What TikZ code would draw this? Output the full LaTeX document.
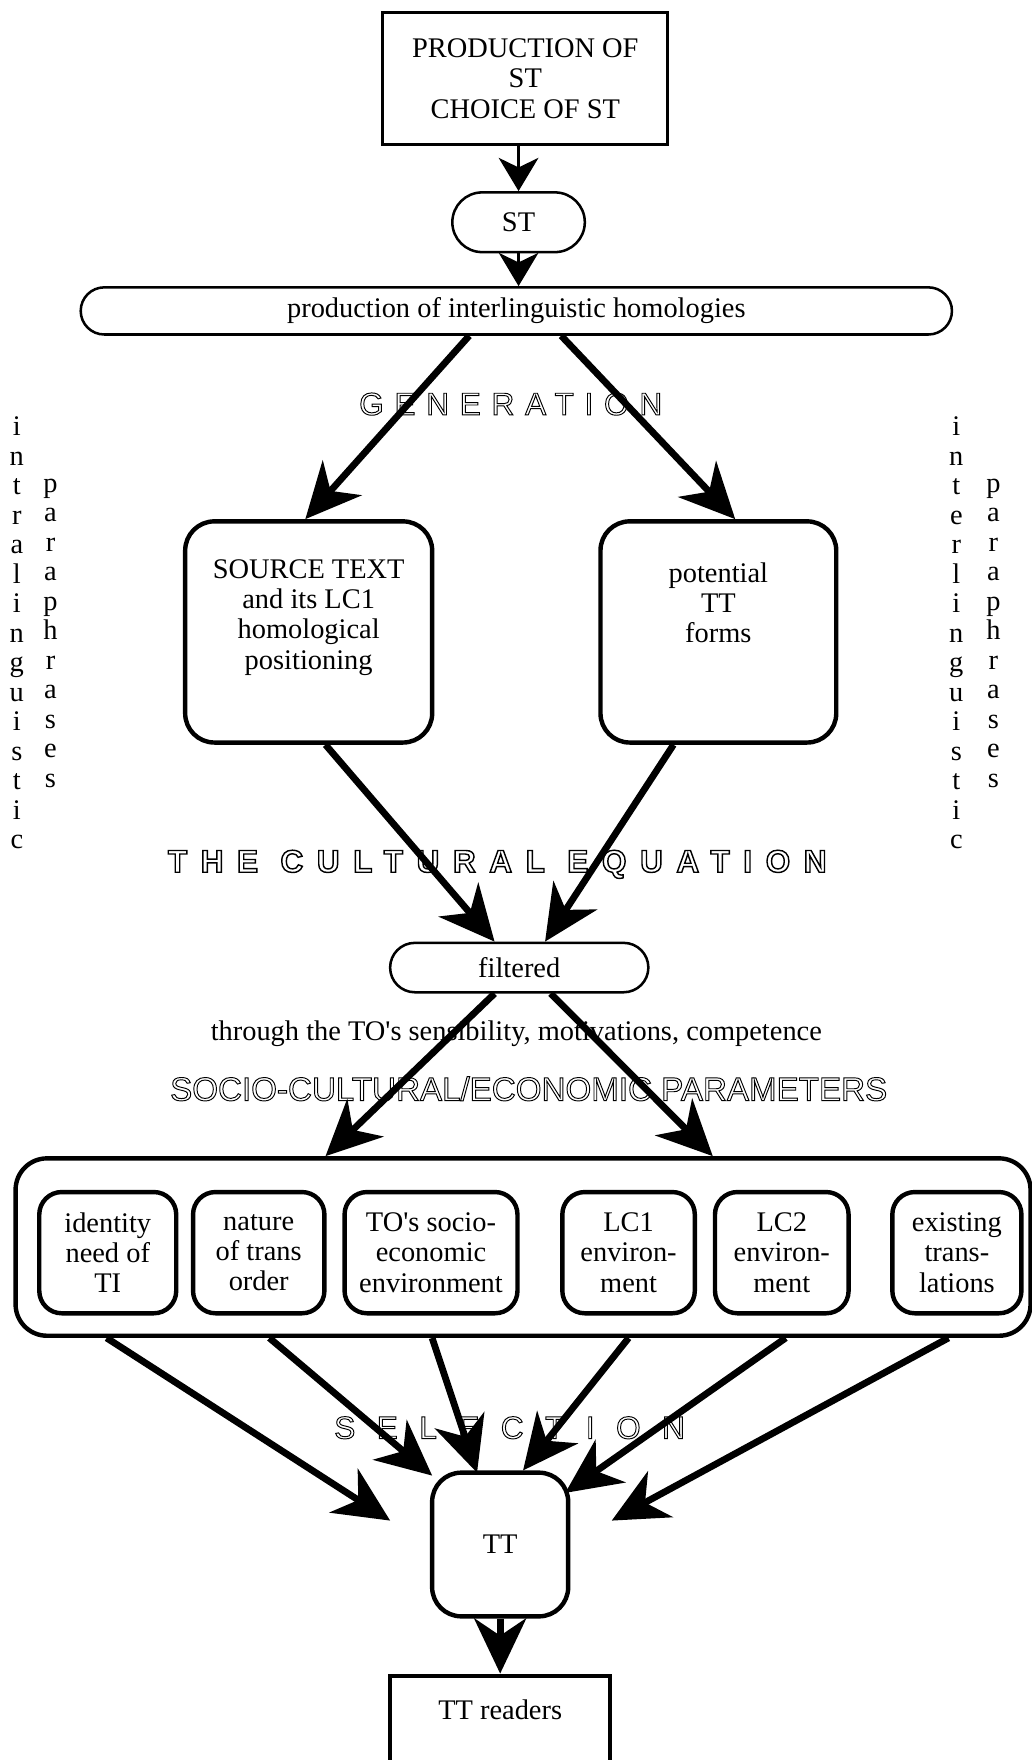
\documentclass[tikz,border=0pt]{standalone}
\usepackage{fontspec}
\setmainfont{Liberation Serif}
\newfontfamily\hollowfont{Liberation Sans}
\usetikzlibrary{arrows.meta,calc,shapes.misc}

% outline lettering for the headings
\newcommand{\hollow}[3][0.6]{\special{pdf:bcontent}\special{pdf:literal direct 1 Tr #1 w}%
  \addfontfeature{LetterSpace=#2}#3\special{pdf:econtent}}

\tikzset{
  plainbox/.style={draw,line width=1.8pt,align=center},
  pill/.style={draw,rounded rectangle,line width=1.6pt,inner sep=0pt},
  roundbox/.style={draw,rounded corners=0.65cm,line width=2.8pt,align=center,inner sep=0pt},
  factor/.style={roundbox,rounded corners=0.5cm,minimum height=2.7cm},
  heading/.style={font=\hollowfont\fontsize{20}{24}\selectfont},
  column/.style={align=center,inner sep=0pt,font=\fontsize{18}{18.7}\selectfont},
  smallarrow/.style={-{Stealth[length=21pt,width=25pt,inset=6pt]},line width=2.4pt},
  bigarrow/.style={-{Stealth[length=35pt,width=33pt,inset=11pt]},line width=4.3pt}
}

\begin{document}
\begin{tikzpicture}[x=0.025cm,y=-0.025cm,font=\fontsize{18}{19.2}\selectfont]
  \useasboundingbox (0,0) rectangle (919,1568);

  \node[plainbox,minimum width=6.35cm,minimum height=2.95cm] (prod) at (468,70)
    {PRODUCTION OF\\ST\\CHOICE OF ST};
  \node[pill,minimum width=2.95cm,minimum height=1.33cm] (st) at (462,198) {ST};
  \node[pill,minimum width=19.4cm,minimum height=1.05cm] (hom) at (460,277)
    {production of interlinguistic homologies};

  \node[heading] (gen) at (455,360) {\hollow{34}{GENERATION}};

  \node[roundbox,minimum width=5.5cm,minimum height=4.925cm] (src) at (275,563) {};
  \node[align=center] (srctext) at (275,550)
    {SOURCE TEXT\\and its LC1\\homological\\positioning};
  \node[roundbox,minimum width=5.25cm,minimum height=4.925cm] (tform) at (640,563) {};
  \node[align=center] (tformtext) at (640,537) {potential\\TT\\forms};

  \node[column] (intra) at (15,564) {i\\n\\t\\r\\a\\l\\i\\n\\g\\u\\i\\s\\t\\i\\c};
  \node[column] (intrapara) at (45,564) {p\\a\\r\\a\\p\\h\\r\\a\\s\\e\\s};
  \node[column] (inter) at (852,564) {i\\n\\t\\e\\r\\l\\i\\n\\g\\u\\i\\s\\t\\i\\c};
  \node[column] (interpara) at (885,564) {p\\a\\r\\a\\p\\h\\r\\a\\s\\e\\s};

  \node[heading,font=\hollowfont\bfseries\fontsize{20}{24}\selectfont] (equ) at (443,770)
    {\hollow[0.9]{43}{THE CULTURAL EQUATION}};

  \node[pill,minimum width=5.75cm,minimum height=1.1cm] (filt) at (462.6,862) {filtered};
  \node (through) at (460,921)
    {through the TO\textquotesingle s sensibility, motivations, competence};
  \node[heading,font=\hollowfont\fontsize{21}{24}\selectfont] (socio) at (471,970)
    {\hollow{0}{SOCIO-CULTURAL/ECONOMIC PARAMETERS}};

  \node[roundbox,rounded corners=0.7cm,minimum width=22.6cm,minimum height=3.95cm]
    (params) at (466,1111) {};
  \node[factor,minimum width=3.05cm] (need) at (96,1116) {identity\\need of\\TI};
  \node[factor,minimum width=2.925cm] (order) at (230.5,1116) {nature\\of trans\\order};
  \node[factor,minimum width=3.85cm] (toenv) at (384,1116)
    {TO\textquotesingle s socio-\\economic\\environment};
  \node[factor,minimum width=2.95cm] (lcone) at (560,1116) {LC1\\environ-\\ment};
  \node[factor,minimum width=2.975cm] (lctwo) at (696.5,1116) {LC2\\environ-\\ment};
  \node[factor,minimum width=2.875cm] (exist) at (852.5,1116) {existing\\trans-\\lations};

  \node[heading] (sel) at (454,1272) {\hollow{68}{SELECTION}};

  \node[roundbox,minimum width=3.03cm,minimum height=3.2cm] (tt) at (445.6,1376) {TT};
  \node[plainbox,line width=2.8pt,anchor=north,inner ysep=0pt,text height=28pt,
    text depth=80pt,minimum width=4.9cm] (readers) at (445.6,1491) {TT readers};

  \path[smallarrow]
    (prod.south -| st.north) edge (st.north)
    (st.south) edge (st.south |- hom.north);

  \path[bigarrow]
    ($(hom.south)+(-42,0)$) edge ($(src.north)+(-3,0)$)
    ($(hom.south)+(40,0)$) edge ($(tform.north)+(15,0)$)
    ($(src.south)+(15,0)$) edge ($(filt.north)+(-22,0)$)
    ($(tform.south)+(-40,0)$) edge ($(filt.north)+(23,0)$)
    ($(filt.south)+(-22,0)$) edge ($(params.north)+(-176,0)$)
    ($(filt.south)+(28,0)$) edge ($(params.north)+(169,0)$)
    ($(params.south)+(-371,0)$) edge ($(tt.center)+(-98,-21.3)$)
    ($(params.south)+(-226,0)$) edge ($(tt.center)+(-60.6,-61.4)$)
    ($(params.south)+(-81,0)$) edge ($(tt.center)+(-20.6,-64)$)
    ($(params.south)+(94,0)$) edge ($(tt.center)+(20.4,-66)$)
    ($(params.south)+(234,0)$) edge ($(tt.center)+(58,-46)$)
    ($(params.south)+(379,0)$) edge ($(tt.center)+(99.4,-21.3)$)
    (tt.south) edge (readers.north);
\end{tikzpicture}
\end{document}
